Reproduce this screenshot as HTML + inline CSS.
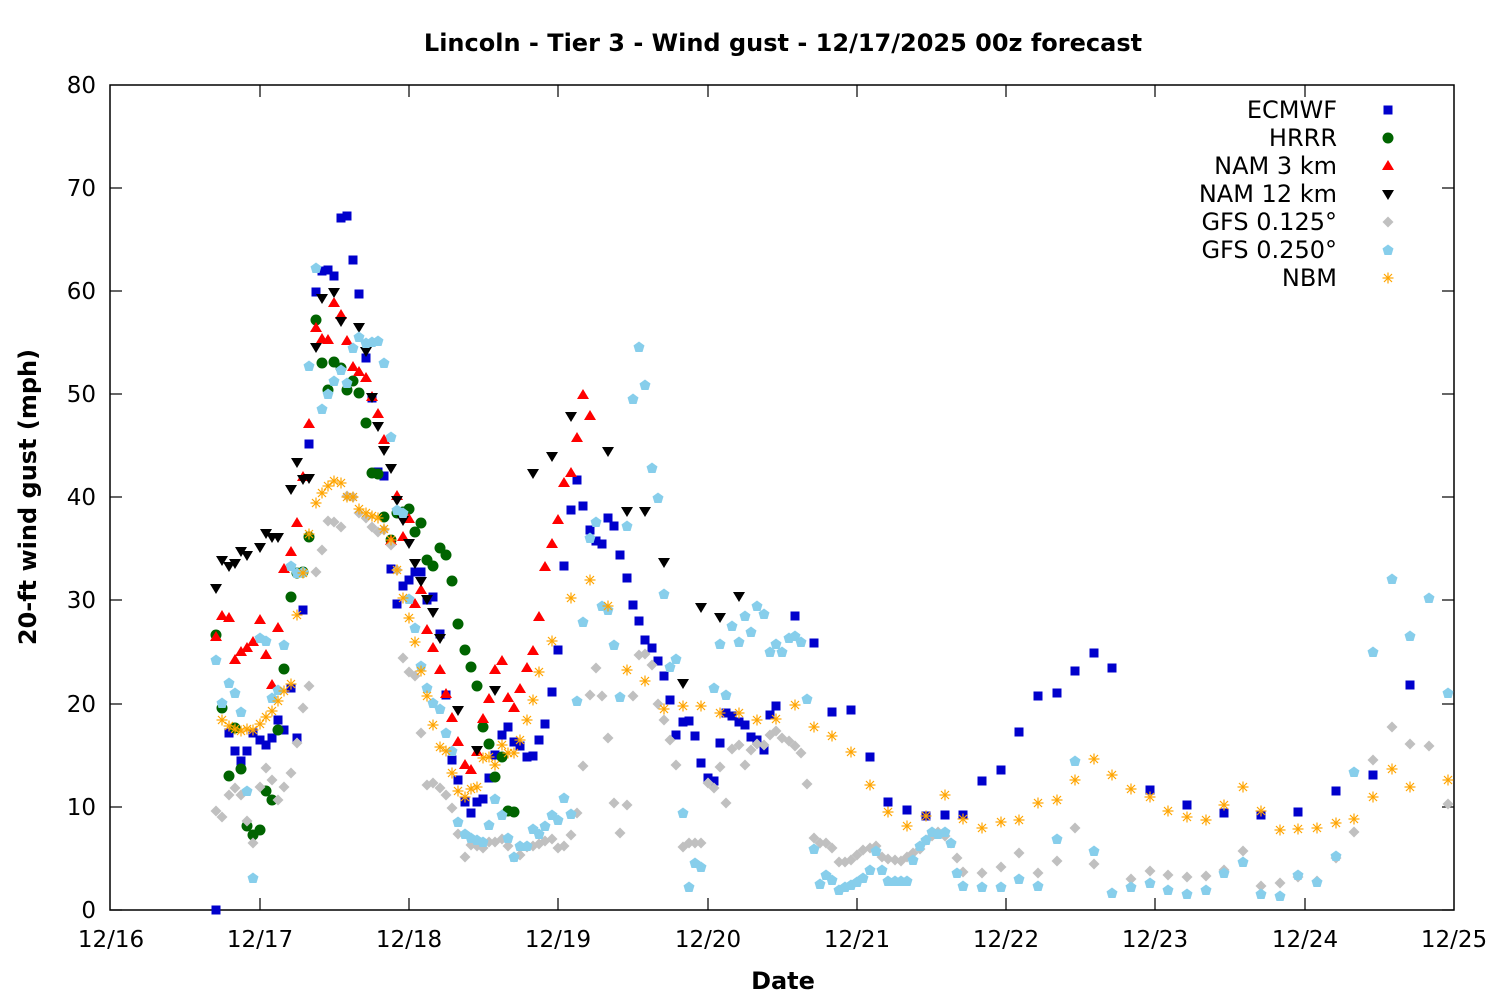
<!DOCTYPE html>
<html><head><meta charset="utf-8"><style>
html,body{margin:0;padding:0;background:#fff}
svg{display:block}
text{font-family:"DejaVu Sans","Liberation Sans",sans-serif;fill:#000}
</style></head><body>
<svg width="1500" height="1000" viewBox="0 0 1500 1000" xmlns="http://www.w3.org/2000/svg">
<defs>
<marker id="sq" markerUnits="userSpaceOnUse" markerWidth="12" markerHeight="12" refX="6" refY="6" overflow="visible"><rect x="1.5" y="1.5" width="9" height="9" fill="#0000cc"/></marker>
<marker id="ci" markerUnits="userSpaceOnUse" markerWidth="12" markerHeight="12" refX="6" refY="6" overflow="visible"><circle cx="6" cy="6" r="5.5" fill="#006400"/></marker>
<marker id="tu" markerUnits="userSpaceOnUse" markerWidth="14" markerHeight="14" refX="7" refY="7" overflow="visible"><polygon points="7,1 13,11 1,11" fill="#ff0000"/></marker>
<marker id="td" markerUnits="userSpaceOnUse" markerWidth="14" markerHeight="14" refX="7" refY="7" overflow="visible"><polygon points="1,3 13,3 7,13" fill="#000"/></marker>
<marker id="di" markerUnits="userSpaceOnUse" markerWidth="12" markerHeight="12" refX="6" refY="6" overflow="visible"><polygon points="6,0.5 11.5,6 6,11.5 0.5,6" fill="#c0c0c0"/></marker>
<marker id="pe" markerUnits="userSpaceOnUse" markerWidth="12" markerHeight="12" refX="6" refY="6" overflow="visible"><polygon points="6,0.5 11.5,4.5 9.5,11 2.5,11 0.5,4.5" fill="#87ceeb"/></marker>
<marker id="as" markerUnits="userSpaceOnUse" markerWidth="12" markerHeight="12" refX="6" refY="6" overflow="visible"><g stroke="#ffa500" stroke-width="1.2"><line x1="0.5" y1="6" x2="11.5" y2="6"/><line x1="6" y1="0.5" x2="6" y2="11.5"/><line x1="2" y1="2" x2="10" y2="10"/><line x1="2" y1="10" x2="10" y2="2"/></g></marker>
</defs>

<text x="783" y="51" font-size="24" font-weight="bold" text-anchor="middle">Lincoln - Tier 3 - Wind gust - 12/17/2025 00z forecast</text>
<text x="783" y="989" font-size="24" font-weight="bold" text-anchor="middle">Date</text>
<text transform="translate(36,497) rotate(-90)" font-size="24" font-weight="bold" text-anchor="middle">20-ft wind gust (mph)</text>

<g stroke="#000" stroke-width="1.2">
<line x1="110" y1="910" x2="122" y2="910"/><line x1="1454" y1="910" x2="1442" y2="910"/>
<line x1="110" y1="807" x2="122" y2="807"/><line x1="1454" y1="807" x2="1442" y2="807"/>
<line x1="110" y1="704" x2="122" y2="704"/><line x1="1454" y1="704" x2="1442" y2="704"/>
<line x1="110" y1="600" x2="122" y2="600"/><line x1="1454" y1="600" x2="1442" y2="600"/>
<line x1="110" y1="497" x2="122" y2="497"/><line x1="1454" y1="497" x2="1442" y2="497"/>
<line x1="110" y1="394" x2="122" y2="394"/><line x1="1454" y1="394" x2="1442" y2="394"/>
<line x1="110" y1="291" x2="122" y2="291"/><line x1="1454" y1="291" x2="1442" y2="291"/>
<line x1="110" y1="188" x2="122" y2="188"/><line x1="1454" y1="188" x2="1442" y2="188"/>
<line x1="260" y1="910" x2="260" y2="898"/><line x1="260" y1="85" x2="260" y2="97"/>
<line x1="409" y1="910" x2="409" y2="898"/><line x1="409" y1="85" x2="409" y2="97"/>
<line x1="558" y1="910" x2="558" y2="898"/><line x1="558" y1="85" x2="558" y2="97"/>
<line x1="708" y1="910" x2="708" y2="898"/><line x1="708" y1="85" x2="708" y2="97"/>
<line x1="857" y1="910" x2="857" y2="898"/><line x1="857" y1="85" x2="857" y2="97"/>
<line x1="1006" y1="910" x2="1006" y2="898"/><line x1="1006" y1="85" x2="1006" y2="97"/>
<line x1="1155" y1="910" x2="1155" y2="898"/><line x1="1155" y1="85" x2="1155" y2="97"/>
<line x1="1305" y1="910" x2="1305" y2="898"/><line x1="1305" y1="85" x2="1305" y2="97"/>
</g>
<rect x="110" y="85" width="1344" height="825" fill="none" stroke="#000" stroke-width="1.5"/>

<g font-size="23" text-anchor="end">
<text x="96" y="918">0</text><text x="96" y="815">10</text><text x="96" y="712">20</text><text x="96" y="608">30</text>
<text x="96" y="505">40</text><text x="96" y="402">50</text><text x="96" y="299">60</text><text x="96" y="196">70</text><text x="96" y="93">80</text>
</g>
<g font-size="23" text-anchor="middle">
<text x="111" y="947">12/16</text><text x="260" y="947">12/17</text><text x="409" y="947">12/18</text><text x="558" y="947">12/19</text>
<text x="708" y="947">12/20</text><text x="857" y="947">12/21</text><text x="1006" y="947">12/22</text><text x="1155" y="947">12/23</text>
<text x="1305" y="947">12/24</text><text x="1454" y="947">12/25</text>
</g>

<g fill="none" stroke="none">
<polyline marker-start="url(#sq)" marker-mid="url(#sq)" marker-end="url(#sq)" points="216,910 229,733 235,751 241,761 247,751 253,733 260,740 266,745 272,738 278,720 284,730 291,688 297,738 303,610 309,444 316,292 322,271 328,270 334,276 341,218 347,216 353,260 359,294 366,358 372,398 378,472 384,476 391,569 397,604 403,586 409,580 415,572 421,572 427,600 433,597 440,634 446,695 452,760 458,780 465,802 471,813 477,802 483,799 489,778 495,755 502,735 508,727 514,742 520,746 527,757 533,756 539,740 545,724 552,692 558,650 564,566 571,510 577,480 583,506 590,530 596,541 602,544 608,518 614,526 620,555 627,578 633,605 639,621 645,640 652,648 658,661 664,676 670,700 676,735 683,722 689,721 695,736 701,763 708,778 714,781 720,743 726,713 732,716 739,722 745,725 751,737 757,740 764,750 770,715 776,706 795,616 814,643 832,712 851,710 870,757 888,802 907,810 926,816 945,815 963,815 982,781 1001,770 1019,732 1038,696 1057,693 1075,671 1094,653 1112,668 1150,790 1187,805 1224,813 1261,815 1298,812 1336,791 1373,775 1410,685"/>
<polyline marker-start="url(#ci)" marker-mid="url(#ci)" marker-end="url(#ci)" points="216,635 222,708 229,776 235,728 241,769 247,826 253,835 260,830 266,791 272,800 278,730 284,669 291,597 297,573 303,572 309,537 316,320 322,363 328,390 334,362 341,368 347,390 353,381 359,393 366,423 372,473 378,474 384,517 391,540 397,513 403,512 409,509 415,532 421,523 427,560 433,566 440,548 446,555 452,581 458,624 465,650 471,667 477,686 483,727 489,744 495,777 502,757 508,811 514,812"/>
<polyline marker-start="url(#tu)" marker-mid="url(#tu)" marker-end="url(#tu)" points="216,637 222,616 229,618 235,660 241,652 247,648 253,642 260,620 266,655 272,685 278,628 284,569 291,552 297,523 303,477 309,424 316,328 322,339 328,340 334,303 341,315 347,341 353,367 359,372 366,378 372,397 378,414 384,440 391,541 397,496 403,537 409,519 415,604 421,590 427,630 433,648 440,670 446,694 452,718 458,742 465,765 471,770 477,752 483,719 489,699 495,670 502,661 508,698 514,708 520,689 527,668 533,651 539,617 545,567 552,544 558,520 564,483 571,473 577,438 583,395 590,416"/>
<polyline marker-start="url(#td)" marker-mid="url(#td)" marker-end="url(#td)" points="216,588 222,560 229,566 235,563 241,551 247,555 260,547 266,533 272,537 278,537 291,489 297,462 303,479 309,478 316,347 322,298 334,292 341,321 359,327 366,351 372,397 378,426 384,450 391,468 397,500 403,520 409,543 415,563 421,581 427,599 433,612 440,638 458,710 477,750 495,690 533,473 552,456 571,416 608,451 627,511 645,511 664,562 683,683 701,607 720,617 739,596"/>
<polyline marker-start="url(#di)" marker-mid="url(#di)" marker-end="url(#di)" points="216,811 222,817 229,795 235,788 241,795 247,821 253,843 260,787 266,768 272,780 278,800 284,787 291,773 297,743 303,708 309,686 316,572 322,550 328,521 334,522 341,527 347,496 353,497 359,513 366,518 372,527 378,532 384,530 391,545 397,570 403,658 409,672 415,676 421,733 427,785 433,783 440,788 446,795 452,808 458,834 465,857 471,845 477,846 483,848 489,842 495,842 502,839 508,846 514,857 520,855 527,847 533,846 539,844 545,841 552,839 558,848 564,846 571,835 577,813 583,766 590,695 596,668 602,696 608,738 614,803 620,833 627,805 633,696 639,655 645,654 652,665 658,704 664,720 670,740 676,765 683,847 689,843 695,843 701,843 708,783 714,788 720,767 726,803 732,749 739,745 745,765 751,750 757,744 764,745 770,735 776,731 782,738 789,741 795,746 801,753 807,784 814,838 820,843 826,843 832,848 839,862 845,862 851,860 857,855 863,850 870,848 876,846 882,857 888,859 895,860 901,861 907,857 913,853 920,849 926,840 932,836 938,832 945,836 951,843 957,858 963,872 982,873 1001,867 1019,853 1038,873 1057,861 1075,828 1094,864 1131,879 1150,871 1168,875 1187,877 1206,876 1224,870 1243,851 1261,886 1280,883 1298,877 1317,881 1336,858 1354,832 1373,760 1392,727 1410,744 1429,746 1448,804"/>
<polyline marker-start="url(#pe)" marker-mid="url(#pe)" marker-end="url(#pe)" points="216,660 222,703 229,683 235,693 241,712 247,791 253,878 260,638 266,641 272,698 278,690 284,645 291,566 297,573 303,572 309,366 316,268 322,409 328,394 334,381 341,370 347,383 353,348 359,337 366,343 372,342 378,341 384,363 391,437 397,510 403,513 409,599 415,628 421,666 427,688 433,703 440,709 446,733 452,751 458,822 465,834 471,838 477,840 483,842 489,825 495,799 502,815 508,838 514,857 520,846 527,846 533,829 539,834 545,826 552,815 558,820 564,798 571,814 577,701 583,622 590,538 596,522 602,606 608,610 614,645 620,697 627,526 633,399 639,347 645,385 652,468 658,498 664,594 670,667 676,659 683,813 689,887 695,863 701,867 714,688 720,644 726,695 732,626 739,642 745,616 751,632 757,606 764,614 770,652 776,644 782,652 789,638 795,636 801,642 807,699 814,849 820,884 826,875 832,880 839,890 845,887 851,885 857,882 863,878 870,870 876,851 882,870 888,881 895,881 901,881 907,881 913,860 920,846 926,840 932,832 938,834 945,832 951,843 957,873 963,886 982,887 1001,887 1019,879 1038,886 1057,839 1075,761 1094,851 1112,893 1131,887 1150,883 1168,890 1187,894 1206,890 1224,873 1243,862 1261,894 1280,896 1298,875 1317,882 1336,856 1354,772 1373,652 1392,579 1410,636 1429,598 1448,693"/>
<polyline marker-start="url(#as)" marker-mid="url(#as)" marker-end="url(#as)" points="222,720 229,726 235,729 241,731 247,729 253,730 260,724 266,717 272,711 278,701 284,691 291,684 297,615 303,573 309,534 316,503 322,493 328,486 334,481 341,483 347,497 353,497 359,509 366,513 372,516 378,518 384,529 391,540 397,570 403,598 409,618 415,642 421,671 427,696 433,725 440,747 446,751 452,773 458,791 465,797 471,789 477,787 483,758 489,757 495,765 502,745 508,753 514,753 520,740 527,720 533,700 539,672 552,641 571,598 590,580 608,606 627,670 645,681 664,709 683,706 701,706 720,713 739,713 757,720 776,719 795,705 814,727 832,736 851,752 870,785 888,812 907,826 926,816 945,795 963,819 982,828 1001,822 1019,820 1038,803 1057,800 1075,780 1094,759 1112,775 1131,789 1150,797 1168,811 1187,817 1206,820 1224,805 1243,787 1261,811 1280,830 1298,829 1317,828 1336,823 1354,819 1373,797 1392,769 1410,787 1448,780"/>
</g>

<g font-size="24" text-anchor="end">
<text x="1337" y="118">ECMWF</text>
<text x="1337" y="146">HRRR</text>
<text x="1337" y="174">NAM 3 km</text>
<text x="1337" y="202">NAM 12 km</text>
<text x="1337" y="230">GFS 0.125°</text>
<text x="1337" y="258">GFS 0.250°</text>
<text x="1337" y="286">NBM</text>
</g>
<rect x="1383.5" y="105.5" width="9" height="9" fill="#0000cc"/>
<circle cx="1388" cy="138" r="5.5" fill="#006400"/>
<polygon points="1388,160 1394,170 1382,170" fill="#ff0000"/>
<polygon points="1382,190 1394,190 1388,200" fill="#000"/>
<polygon points="1388,216.5 1393.5,222 1388,227.5 1382.5,222" fill="#c0c0c0"/>
<polygon points="1388,244.5 1393.5,248.5 1391.5,255 1384.5,255 1382.5,248.5" fill="#87ceeb"/>
<g stroke="#ffa500" stroke-width="1.2"><line x1="1382.5" y1="278" x2="1393.5" y2="278"/><line x1="1388" y1="272.5" x2="1388" y2="283.5"/><line x1="1384" y1="274" x2="1392" y2="282"/><line x1="1384" y1="282" x2="1392" y2="274"/></g>
</svg>
</body></html>
